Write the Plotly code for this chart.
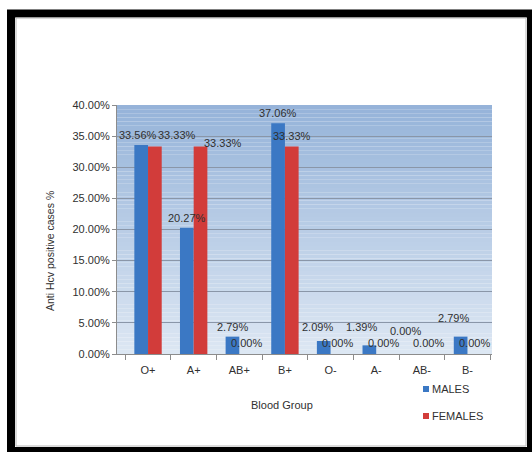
import plotly.graph_objects as go

# Anti-HCV positive cases by blood group, split by sex (percent)
blood_groups = ["O+", "A+", "AB+", "B+", "O-", "A-", "AB-", "B-"]
males = [33.56, 20.27, 2.79, 37.06, 2.09, 1.39, 0.00, 2.79]
females = [33.33, 33.33, 0.00, 33.33, 0.00, 0.00, 0.00, 0.00]
series_names = ["MALES", "FEMALES"]
y_ticks = [0, 5, 10, 15, 20, 25, 30, 35, 40]

# Figure geometry (pixels)
W, H = 532, 452
ML, MR, MT, MB = 117, 40, 105, 98
PW, PH = W - ML - MR, H - MT - MB

def px(xp):
    return (xp - ML) / PW

def py(yp):
    return (H - MB - yp) / PH

FONT = "Liberation Sans, Arial, sans-serif"
TEXT = "#303030"
BLUE = "#3b78c4"
RED = "#d23c3a"
COLORS = [BLUE, RED]

fig = go.Figure()
for name, vals, col in zip(series_names, (males, females), COLORS):
    fig.add_trace(go.Bar(
        x=blood_groups, y=vals, name=name, showlegend=False,
        marker=dict(color=col, line=dict(width=0)),
    ))

# value labels above each bar; small nudges keep crowded labels readable
cat_w = PW / len(blood_groups)
half_bar = cat_w * 0.15
male_dx = [-3, 0, 0, 0, -6, -8, -9, -7]
male_dy = [10, 10, 10, 10, 14, 18, 23, 19]
female_dx = [22, 22, 0, 0, 0, 0, 0, 0]
female_dy = [12, 4, 11, 11, 11, 11, 11, 11]

annotations = []
for vals, side, dxs, dys in ((males, -1, male_dx, male_dy),
                             (females, 1, female_dx, female_dy)):
    for g, v, dx, dy in zip(blood_groups, vals, dxs, dys):
        annotations.append(dict(
            x=g, y=v, xref="x", yref="y", text=f"{v:.2f}%",
            showarrow=False, xanchor="center", yanchor="middle",
            xshift=side * half_bar + dx, yshift=dy,
            font=dict(family=FONT, size=11, color=TEXT),
        ))

annotations.append(dict(
    x=px(50), y=py(251), xref="paper", yref="paper",
    text="Anti Hcv positive cases %", textangle=-90, showarrow=False,
    xanchor="center", yanchor="middle",
    font=dict(family=FONT, size=10.5, color=TEXT),
))
annotations.append(dict(
    x=px(282), y=py(405), xref="paper", yref="paper",
    text="Blood Group", showarrow=False, xanchor="center", yanchor="middle",
    font=dict(family=FONT, size=11, color=TEXT),
))

# vertical gradient behind the plot area
shapes = []
top_c = (149, 179, 217)
bot_c = (221, 231, 243)
n = 60
for i in range(n):
    t = (i + 0.5) / n
    c = tuple(round(bot_c[k] + (top_c[k] - bot_c[k]) * t) for k in range(3))
    shapes.append(dict(
        type="rect", xref="x domain", yref="y domain",
        x0=0, x1=1, y0=i / n, y1=(i + 1) / n,
        fillcolor=f"rgb{c}", line=dict(width=0), layer="below",
    ))

# compact legend: small colour square followed by the series name
for k, (name, col) in enumerate(zip(series_names, COLORS)):
    yc = 389 + 27 * k
    shapes.append(dict(
        type="rect", xref="paper", yref="paper",
        x0=px(423), x1=px(429), y0=py(yc + 3), y1=py(yc - 3),
        fillcolor=col, line=dict(width=0), layer="above",
    ))
    annotations.append(dict(
        x=px(430), y=py(yc), xref="paper", yref="paper", text=name,
        showarrow=False, xanchor="left", yanchor="middle",
        font=dict(family=FONT, size=11, color=TEXT),
    ))

# black frame around the whole chart
shapes.append(dict(
    type="rect", xref="paper", yref="paper",
    x0=px(11), x1=px(531), y0=py(13.5), y1=py(451),
    line=dict(color="black", width=8), fillcolor="rgba(0,0,0,0)", layer="above",
))
shapes.append(dict(
    type="rect", xref="paper", yref="paper",
    x0=px(16), x1=px(526), y0=py(18), y1=py(446),
    line=dict(color="#b8b8b8", width=1), fillcolor="rgba(0,0,0,0)", layer="above",
))

fig.update_layout(
    width=W, height=H,
    margin=dict(l=ML, r=MR, t=MT, b=MB, pad=0),
    paper_bgcolor="white", plot_bgcolor="rgba(0,0,0,0)",
    barmode="group", bargap=0.4, bargroupgap=0,
    font=dict(family=FONT, size=11, color=TEXT),
    showlegend=False,
    annotations=annotations,
    shapes=shapes,
)

fig.update_xaxes(
    type="category", showgrid=False, zeroline=False,
    showline=True, linecolor="#8c8c8c", linewidth=1,
    ticks="outside", tickson="boundaries", ticklen=5, tickcolor="#8c8c8c",
    tickfont=dict(family=FONT, size=11, color=TEXT), ticklabelstandoff=6,
)
fig.update_yaxes(
    range=[0, 40], tickvals=y_ticks,
    ticktext=[f"{v:.2f}%" for v in y_ticks],
    showgrid=True, gridcolor="#8a96a8", gridwidth=1, zeroline=False,
    showline=True, linecolor="#8c8c8c", linewidth=1,
    ticks="outside", ticklen=4, tickcolor="#8c8c8c",
    tickfont=dict(family=FONT, size=11, color=TEXT),
)

fig.write_html("out.html")
